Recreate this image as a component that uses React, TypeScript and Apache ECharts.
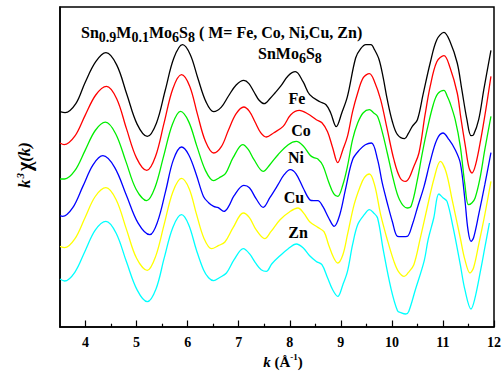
import React, { useEffect, useRef } from 'react';
import * as echarts from 'echarts';

const FONT = '"Liberation Serif", "Times New Roman", Times, serif';

// x-axis tick values (k, Å^-1)
const tickLabels = [4, 5, 6, 7, 8, 9, 10, 11, 12];
const minorTickValues = [4.5, 5.5, 6.5, 7.5, 8.5, 9.5, 10.5, 11.5];

const seriesNames = ['SnMo6S8', 'Fe', 'Co', 'Ni', 'Cu', 'Zn'];
const seriesColors = ['#000000', '#ff0000', '#00ee00', '#0000ff', '#ffff00', '#00ffff'];

// k^3 chi(k), stacked (arbitrary units incl. vertical offsets)
const snMo6S8: [number, number][] = [
  [3.5, 21.53], [3.6, 21.43], [3.81, 22.33], [3.99, 24.43], [4.2, 26.53], [4.4, 27.43],
  [4.61, 26.21], [4.81, 23.25], [5.01, 20.29], [5.21, 19.06], [5.39, 20.41], [5.56, 23.65],
  [5.73, 26.89], [5.9, 28.23], [6.05, 27.25], [6.2, 24.88], [6.36, 22.51], [6.51, 21.53],
  [6.66, 21.99], [6.8, 23.1], [6.95, 24.2], [7.1, 24.66], [7.2, 24.34], [7.3, 23.5],
  [7.4, 22.67], [7.5, 22.33], [7.61, 22.83], [7.71, 23.4], [7.83, 24.13], [7.97, 25.13],
  [8.11, 25.53], [8.26, 24.53], [8.39, 23.23], [8.59, 22.53], [8.71, 22.23], [8.8, 21.43],
  [8.91, 20.03], [9.02, 21.43], [9.13, 23.06], [9.29, 26.9], [9.39, 27.83], [9.49, 28.23],
  [9.59, 28.23], [9.66, 27.73], [9.75, 26.73], [9.83, 24.93], [9.91, 22.73], [10.01, 20.53],
  [10.11, 19.23], [10.25, 18.83], [10.32, 19.33], [10.4, 20.06], [10.5, 20.73], [10.61, 23.23],
  [10.75, 26.4], [10.88, 28.73], [11.02, 29.46], [11.14, 28.53], [11.28, 26.4], [11.37, 23.73],
  [11.47, 20.73], [11.55, 19.13], [11.6, 19.23], [11.7, 20.73], [11.8, 23.73], [11.94, 27.66],
];

const fe: [number, number][] = [
  [3.5, 18.4], [3.58, 18.23], [3.79, 19.08], [3.99, 21.14], [4.2, 23.2], [4.41, 24.06],
  [4.61, 22.83], [4.8, 19.86], [5.0, 16.89], [5.2, 15.66], [5.37, 17.05], [5.54, 20.44],
  [5.71, 23.83], [5.88, 25.23], [6.04, 24.08], [6.19, 21.31], [6.35, 18.54], [6.51, 17.4],
  [6.66, 18.03], [6.8, 19.7], [6.95, 21.33], [7.1, 22.0], [7.21, 21.56], [7.32, 20.5],
  [7.43, 19.44], [7.54, 19.0], [7.69, 19.43], [7.87, 20.06], [8.02, 21.23], [8.19, 21.66],
  [8.35, 21.33], [8.52, 20.73], [8.63, 20.43], [8.74, 19.53], [8.84, 17.93], [8.94, 16.43],
  [9.04, 17.73], [9.13, 19.06], [9.23, 21.53], [9.33, 23.4], [9.44, 24.93], [9.56, 25.33],
  [9.66, 24.53], [9.78, 22.73], [9.91, 19.73], [10.04, 16.73], [10.16, 14.93], [10.27, 14.56],
  [10.34, 14.93], [10.42, 15.93], [10.53, 17.4], [10.65, 21.23], [10.75, 24.06], [10.88, 26.53],
  [11.02, 27.13], [11.14, 25.93], [11.28, 23.4], [11.35, 20.93], [11.44, 18.06], [11.51, 15.93],
  [11.57, 15.4], [11.64, 16.23], [11.74, 18.73], [11.84, 21.73], [11.94, 25.06],
];

const co: [number, number][] = [
  [3.5, 14.8], [3.59, 14.8], [3.79, 15.63], [3.99, 17.64], [4.19, 19.65], [4.39, 20.48],
  [4.59, 19.33], [4.79, 16.56], [4.99, 13.78], [5.2, 12.63], [5.36, 13.94], [5.53, 17.09],
  [5.7, 20.25], [5.86, 21.56], [6.02, 20.54], [6.18, 18.09], [6.35, 15.64], [6.51, 14.63],
  [6.62, 14.93], [6.74, 15.33], [6.89, 16.93], [7.08, 18.23], [7.19, 17.73], [7.3, 16.73],
  [7.48, 15.56], [7.61, 16.23], [7.77, 17.23], [7.97, 18.23], [8.13, 18.56], [8.26, 18.13],
  [8.39, 17.23], [8.47, 16.93], [8.55, 16.8], [8.65, 16.13], [8.76, 14.53], [8.86, 13.33],
  [8.94, 13.06], [9.04, 14.23], [9.13, 16.06], [9.23, 18.73], [9.33, 20.4], [9.44, 21.43],
  [9.56, 21.73], [9.64, 21.43], [9.72, 21.06], [9.81, 19.53], [9.91, 17.4], [10.03, 14.73],
  [10.15, 12.73], [10.3, 11.9], [10.38, 12.13], [10.5, 14.73], [10.59, 17.23], [10.69, 19.73],
  [10.81, 22.23], [10.9, 23.33], [11.02, 23.66], [11.08, 23.13], [11.14, 22.4], [11.24, 20.73],
  [11.34, 18.06], [11.43, 14.23], [11.5, 12.23], [11.57, 12.43], [11.63, 12.9], [11.72, 14.73],
  [11.82, 17.73], [11.94, 21.06],
];

const ni: [number, number][] = [
  [3.5, 11.13], [3.55, 11.06], [3.75, 11.93], [3.95, 14.09], [4.15, 16.24], [4.34, 17.13],
  [4.57, 15.97], [4.8, 13.18], [5.03, 10.39], [5.26, 9.23], [5.41, 10.51], [5.57, 13.61],
  [5.72, 16.71], [5.88, 18.0], [6.02, 17.23], [6.17, 15.23], [6.31, 13.06], [6.41, 12.43],
  [6.51, 12.06], [6.6, 11.93], [6.71, 11.56], [6.8, 12.03], [6.91, 13.13], [7.1, 14.16],
  [7.21, 13.93], [7.34, 12.83], [7.48, 11.96], [7.61, 12.93], [7.77, 14.23], [7.89, 15.23],
  [8.01, 15.73], [8.12, 15.33], [8.26, 13.93], [8.39, 12.73], [8.47, 12.63], [8.55, 12.63],
  [8.65, 12.03], [8.76, 10.93], [8.87, 10.06], [8.98, 11.23], [9.09, 13.73], [9.23, 16.73],
  [9.37, 17.73], [9.48, 18.23], [9.6, 18.4], [9.72, 16.73], [9.81, 14.43], [9.91, 12.4],
  [10.01, 10.53], [10.11, 9.06], [10.2, 9.03], [10.3, 9.06], [10.4, 10.23], [10.5, 11.93],
  [10.63, 14.06], [10.75, 16.53], [10.88, 18.73], [11.0, 19.4], [11.12, 18.73], [11.24, 17.73],
  [11.34, 16.4], [11.43, 12.73], [11.49, 9.73], [11.55, 8.56], [11.6, 8.93], [11.7, 11.23],
  [11.82, 14.23], [11.94, 17.43],
];

const cu: [number, number][] = [
  [3.5, 8.06], [3.59, 7.93], [3.79, 8.81], [3.99, 10.93], [4.19, 13.05], [4.4, 13.93],
  [4.6, 12.72], [4.8, 9.79], [5.0, 6.87], [5.21, 5.66], [5.37, 7.01], [5.54, 10.26],
  [5.71, 13.51], [5.88, 14.86], [6.03, 13.83], [6.17, 11.34], [6.32, 8.86], [6.47, 7.83],
  [6.6, 8.13], [6.73, 8.5], [6.89, 9.93], [7.09, 11.4], [7.21, 10.93], [7.34, 9.73],
  [7.51, 8.83], [7.63, 9.53], [7.81, 10.73], [8.0, 11.53], [8.16, 11.9], [8.28, 11.33],
  [8.39, 10.53], [8.55, 9.96], [8.67, 9.53], [8.76, 8.23], [8.86, 6.93], [8.94, 6.4],
  [9.04, 7.23], [9.13, 9.23], [9.26, 12.23], [9.37, 13.93], [9.46, 14.93], [9.56, 15.3],
  [9.66, 14.23], [9.78, 11.23], [9.91, 8.73], [10.04, 6.56], [10.13, 5.53], [10.24, 5.06],
  [10.32, 5.43], [10.43, 6.23], [10.55, 8.73], [10.69, 11.9], [10.83, 14.93], [10.95, 16.56],
  [11.06, 15.53], [11.18, 12.73], [11.34, 8.9], [11.43, 6.73], [11.53, 5.4], [11.6, 5.93],
  [11.7, 8.23], [11.82, 11.23], [11.94, 14.56],
];

const zn: [number, number][] = [
  [3.5, 4.8], [3.59, 4.6], [3.79, 5.47], [3.99, 7.58], [4.19, 9.69], [4.4, 10.56],
  [4.6, 9.38], [4.8, 6.54], [5.01, 3.71], [5.21, 2.53], [5.38, 3.8], [5.54, 6.88],
  [5.71, 9.96], [5.88, 11.23], [6.02, 10.23], [6.17, 7.73], [6.31, 5.73], [6.41, 4.93],
  [6.51, 4.63], [6.62, 4.93], [6.76, 5.4], [6.91, 6.73], [7.09, 7.83], [7.21, 7.33],
  [7.34, 6.33], [7.44, 5.73], [7.54, 5.56], [7.65, 6.33], [7.81, 7.13], [7.97, 7.83],
  [8.13, 8.3], [8.26, 7.93], [8.39, 7.13], [8.52, 6.56], [8.63, 6.23], [8.74, 4.93],
  [8.84, 3.73], [8.94, 3.06], [9.04, 4.23], [9.13, 5.56], [9.23, 8.23], [9.33, 10.23],
  [9.46, 11.23], [9.56, 11.73], [9.64, 11.43], [9.72, 10.9], [9.83, 7.73], [9.98, 3.9],
  [10.11, 1.63], [10.18, 1.43], [10.27, 1.3], [10.33, 1.56], [10.46, 3.73], [10.63, 6.56],
  [10.71, 8.73], [10.82, 10.9], [10.92, 13.3], [11.0, 12.93], [11.08, 12.56], [11.2, 9.93],
  [11.34, 6.23], [11.43, 3.73], [11.55, 1.8], [11.62, 2.73], [11.74, 5.73], [11.82, 7.93],
  [11.91, 10.4],
];

const seriesData = [snMo6S8, fe, co, ni, cu, zn];

const curveLabels = ['Fe', 'Co', 'Ni', 'Cu', 'Zn'];

export default function App() {
  const ref = useRef<HTMLDivElement>(null);

  useEffect(() => {
    if (!ref.current) return;
    const chart = echarts.init(ref.current, undefined, { renderer: 'svg' });

    const labelPos = [
      [297, 98],
      [301, 130],
      [296, 157],
      [294, 197],
      [298, 232],
    ];

    const bold = { fontFamily: FONT, fontWeight: 'bold' as const, fill: '#000' };

    const option: any = {
      animation: false,
      backgroundColor: '#ffffff',
      grid: {
        left: 60,
        top: 7,
        width: 437,
        height: 320,
        show: true,
        borderColor: '#000',
        borderWidth: 1.5,
        backgroundColor: 'transparent',
      },
      xAxis: [
        {
          type: 'value',
          min: 3.5,
          max: 12,
          position: 'bottom',
          axisLine: { show: true, lineStyle: { color: '#000', width: 1.5 } },
          axisTick: { show: true, inside: true, length: 6.5, lineStyle: { color: '#000', width: 1.2 }, customValues: tickLabels },
          axisLabel: {
            show: true,
            customValues: tickLabels,
            margin: 8,
            color: '#000',
            fontSize: 14,
            fontWeight: 'bold',
            fontFamily: FONT,
          },
          splitLine: { show: false },
        },
        {
          type: 'value',
          min: 3.5,
          max: 12,
          position: 'bottom',
          axisLine: { show: false },
          axisTick: { show: true, inside: true, length: 3.3, lineStyle: { color: '#000', width: 1.2 }, customValues: minorTickValues },
          axisLabel: { show: false },
          splitLine: { show: false },
        },
      ],
      yAxis: {
        type: 'value',
        min: 0,
        max: 32,
        axisLine: { show: true, lineStyle: { color: '#000', width: 1.5 } },
        axisTick: { show: false },
        axisLabel: { show: false },
        splitLine: { show: false },
      },
      series: seriesData.map((d, i) => ({
        name: seriesNames[i],
        type: 'line',
        data: d,
        xAxisIndex: 0,
        showSymbol: false,
        symbol: 'none',
        smooth: 0.35,
        lineStyle: { color: seriesColors[i], width: 1.3 },
        itemStyle: { color: seriesColors[i] },
        z: 10 - i,
      })),
      graphic: [
        {
          type: 'text',
          left: 81,
          top: 24,
          style: {
            text: '{a|Sn}{s|0.9}{a|M}{s|0.1}{a|Mo}{s|6}{a|S}{s|8}{a| ( M= Fe, Co, Ni,Cu, Zn)}',
            rich: {
              a: { ...bold, fontSize: 16 },
              s: { ...bold, fontSize: 14, padding: [10, 0, 0, 0] },
            },
          },
        },
        {
          type: 'text',
          left: 258,
          top: 45,
          style: {
            text: '{a|SnMo}{s|6}{a|S}{s|8}',
            rich: {
              a: { ...bold, fontSize: 16 },
              s: { ...bold, fontSize: 14, padding: [10, 0, 0, 0] },
            },
          },
        },
        ...curveLabels.map((t, i) => ({
          type: 'text',
          x: labelPos[i][0],
          y: labelPos[i][1],
          style: { ...bold, text: t, fontSize: 16, align: 'center', verticalAlign: 'middle' },
        })),
        {
          type: 'text',
          x: 24,
          y: 165,
          rotation: Math.PI / 2,
          style: {
            text: '{k|k}{sup|3}{chi|χ}{p|(}{k|k}{p|)}',
            align: 'center',
            verticalAlign: 'middle',
            rich: {
              k: { ...bold, fontStyle: 'italic', fontSize: 17 },
              sup: { ...bold, fontStyle: 'italic', fontSize: 11, padding: [0, 2, 9, 1] },
              chi: { ...bold, fontSize: 20 },
              p: { ...bold, fontStyle: 'italic', fontSize: 17 },
            },
          },
        },
        {
          type: 'text',
          x: 283,
          y: 362,
          style: {
            text: '{k|k}{p| (}{a|Å}{sup|-1}{p|)}',
            align: 'center',
            verticalAlign: 'middle',
            rich: {
              k: { ...bold, fontStyle: 'italic', fontSize: 15 },
              p: { ...bold, fontSize: 15 },
              a: { ...bold, fontSize: 15 },
              sup: { ...bold, fontSize: 9, padding: [0, 0, 10, 0] },
            },
          },
        },
      ],
    };

    chart.setOption(option);
    return () => chart.dispose();
  }, []);

  return (
    <div
      ref={ref}
      style={{ position: 'fixed', left: 0, top: 0, width: 504, height: 372, background: '#fff' }}
    />
  );
}
